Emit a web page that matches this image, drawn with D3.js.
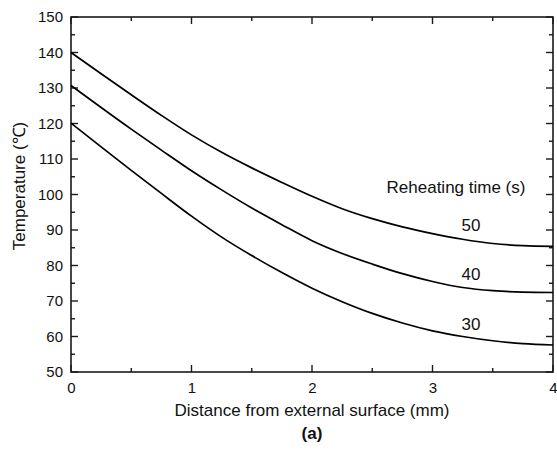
<!DOCTYPE html>
<html><head><meta charset="utf-8">
<script src="https://cdn.jsdelivr.net/npm/d3@7"></script>
<style>
body{margin:0;background:#fff;}
svg text{font-family:"Liberation Sans",Arial,sans-serif;fill:#111;}
</style></head>
<body><svg id="c" width="557" height="452"></svg>
<script>
const distance = [0,0.25,0.5,0.75,1,1.25,1.5,1.75,2,2.25,2.5,2.75,3,3.25,3.5,3.75,4];
const temp50 = [140,134.0,128.1,122.3,116.8,111.9,107.5,103.4,99.5,96.0,93.2,90.9,89.0,87.4,86.2,85.6,85.4];
const temp40 = [130.7,124.5,118.4,112.5,106.7,101.3,96.2,91.5,87.0,83.4,80.4,77.7,75.5,73.8,72.9,72.5,72.4];
const temp30 = [120.1,113.4,106.8,100.3,93.9,88.0,82.8,78.0,73.6,69.8,66.5,63.8,61.6,60.0,58.8,58.0,57.6];
const seriesNames = ["50","40","30"];
const xTicks = [0,1,2,3,4];
const yTicks = [50,60,70,80,90,100,110,120,130,140,150];

const svg = d3.select("#c");
const L=71,R=553,T=17,B=372;
const x = d3.scaleLinear().domain([0,4]).range([L,R]);
const y = d3.scaleLinear().domain([50,150]).range([B,T]);

const axCol="#1a1a1a";
svg.append("rect").attr("x",L).attr("y",T).attr("width",R-L).attr("height",B-T)
  .attr("fill","none").attr("stroke",axCol).attr("stroke-width",1.6);

const xMinor = d3.range(0.5,4,1);
const yMinor = d3.range(55,150,10);
function addTicks(){
  const g = svg.append("g").attr("stroke",axCol).attr("stroke-width",1.4);
  xTicks.forEach(v=>{ g.append("line").attr("x1",x(v)).attr("x2",x(v)).attr("y1",B).attr("y2",B-7);
                       g.append("line").attr("x1",x(v)).attr("x2",x(v)).attr("y1",T).attr("y2",T+7);});
  xMinor.forEach(v=>{ g.append("line").attr("x1",x(v)).attr("x2",x(v)).attr("y1",B).attr("y2",B-4);
                       g.append("line").attr("x1",x(v)).attr("x2",x(v)).attr("y1",T).attr("y2",T+4);});
  yTicks.forEach(v=>{ g.append("line").attr("x1",L).attr("x2",L+7).attr("y1",y(v)).attr("y2",y(v));
                       g.append("line").attr("x1",R).attr("x2",R-7).attr("y1",y(v)).attr("y2",y(v));});
  yMinor.forEach(v=>{ g.append("line").attr("x1",L).attr("x2",L+4).attr("y1",y(v)).attr("y2",y(v));
                       g.append("line").attr("x1",R).attr("x2",R-4).attr("y1",y(v)).attr("y2",y(v));});
}
addTicks();

const xAxis = d3.axisBottom(x).tickValues(xTicks).tickSize(0).tickPadding(10).tickFormat(d3.format("d"));
const gx = svg.append("g").attr("transform",`translate(0,${B})`).call(xAxis);
gx.select(".domain").remove();
gx.selectAll("text").attr("font-size",15).attr("font-family","Liberation Sans, Arial, sans-serif").attr("fill","#111");

const yAxis = d3.axisLeft(y).tickValues(yTicks).tickSize(0).tickPadding(8).tickFormat(d3.format("d"));
const gy = svg.append("g").attr("transform",`translate(${L},0)`).call(yAxis);
gy.select(".domain").remove();
gy.selectAll("text").attr("font-size",15).attr("font-family","Liberation Sans, Arial, sans-serif").attr("fill","#111");

const line = d3.line().x((d,i)=>x(distance[i])).y(d=>y(d)).curve(d3.curveMonotoneX);
[temp50,temp40,temp30].forEach(s=>{
  svg.append("path").attr("d",line(s)).attr("fill","none").attr("stroke","#000").attr("stroke-width",1.7);
});

svg.append("text").attr("x",456).attr("y",193).attr("text-anchor","middle").attr("font-size",17).text("Reheating time (s)");
const labelY=[230.5,280,330];
seriesNames.forEach((n,i)=>svg.append("text").attr("x",471).attr("y",labelY[i]).attr("text-anchor","middle").attr("font-size",17).text(n));

svg.append("text").attr("x",x(2)).attr("y",416).attr("text-anchor","middle").attr("font-size",17).text("Distance from external surface (mm)");
svg.append("text").attr("x",x(2)).attr("y",439).attr("text-anchor","middle").attr("font-size",17).attr("font-weight","bold").text("(a)");
svg.append("text").attr("transform","translate(25,186) rotate(-90)").attr("text-anchor","middle").attr("font-size",17).text("Temperature (℃)");
</script></body></html>
